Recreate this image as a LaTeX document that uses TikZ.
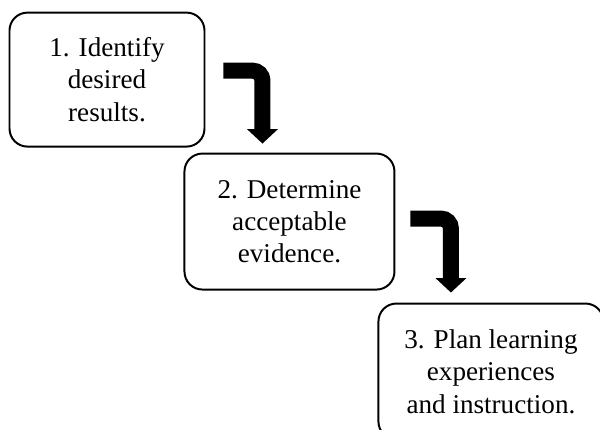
\documentclass[tikz,border=0pt]{standalone}
\usepackage{fontspec}
\setmainfont{Liberation Serif}
\usepackage{tikz}
\usetikzlibrary{positioning,arrows.meta,calc}

\begin{document}
\begin{tikzpicture}[
  stage/.style={rectangle, draw, line width=1.4pt, rounded corners=0.45cm, align=center, font=\fontsize{19.3}{23}\selectfont, inner sep=0pt},
  bendarrow/.style={line width=0.4cm, rounded corners=0.25cm, -{Triangle[length=0.36cm, width=0.75cm]}}
]
  \useasboundingbox (0,0) rectangle (15,10.75);
  \clip (0,0) rectangle (15,10.75);

  % Stage boxes
  \node[stage, minimum width=4.875cm, minimum height=3.35cm] (goals) at (2.675,8.76) {1. Identify\\desired\\results.};
  \node[stage, minimum width=5.25cm, minimum height=3.4cm, below right=0.125cm and -0.55cm of goals] (evidence) {2. Determine\\acceptable\\evidence.};
  \node[stage, minimum width=5.625cm, minimum height=3.4cm, below right=0.3cm and -0.45cm of evidence] (plan) {3. Plan learning\\experiences\\and instruction.};

  % Bent arrows
  \draw[bendarrow] ($(goals.north east)+(0.45,-1.475)$) -| ($(evidence.north)+(-0.675,0.225)$);
  \draw[bendarrow] ($(evidence.north east)+(0.375,-1.65)$) -| ($(plan.north)+(-1.0,0.25)$);
\end{tikzpicture}
\end{document}
